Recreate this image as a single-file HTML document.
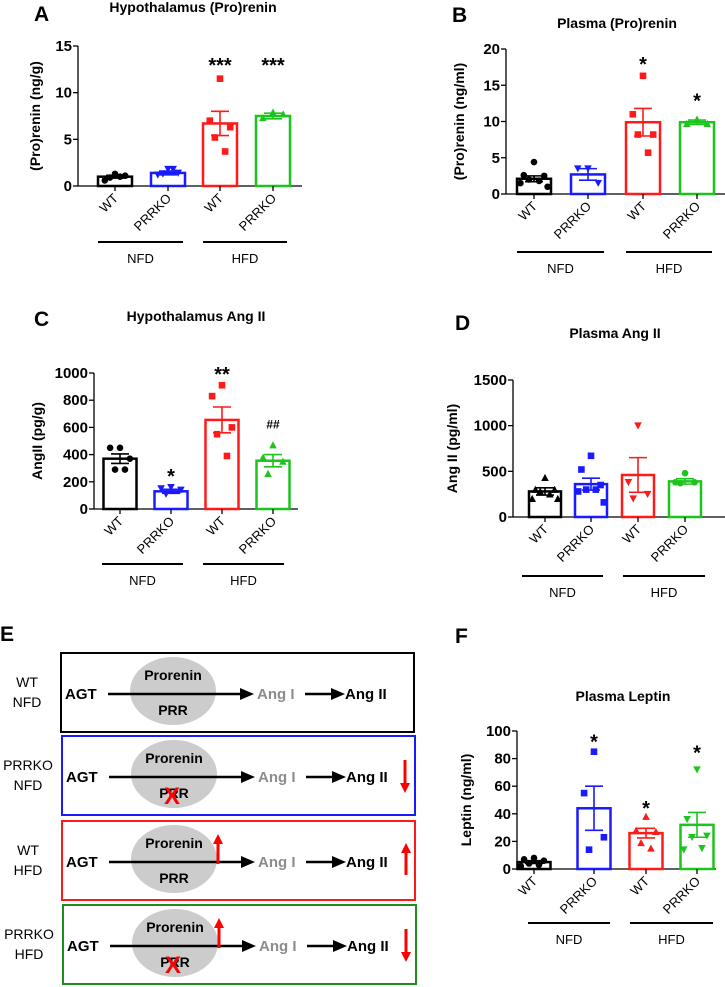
<!DOCTYPE html>
<html><head><meta charset="utf-8"><style>
body{margin:0;background:#fff}
svg{display:block;font-family:"Liberation Sans",Arial,sans-serif}
</style></head><body>
<svg id="fig" width="725" height="987" viewBox="0 0 725 987"></svg>
<script>
// ---- data ----
const groups = ["WT","PRRKO","WT","PRRKO"];
const diets = ["NFD","HFD"];
const aPts = [[1.3,0.6,1.1,0.9,1.0],[1.8,1.2,1.4,1.3,1.8],[11.5,7.0,6.3,5.2,3.7],[7.9,7.3,7.7]];
const aMean = [1.0,1.4,6.7,7.5];
const aSem = [0.15,0.2,1.3,0.3];
const aTicks = [0,5,10,15];
const aSig = ["","","***","***"];
const bPts = [[4.4,2.6,2.5,2.0,1.8,1.5,1.0],[3.5,3.5,1.5],[16.3,11.0,8.2,8.2,5.7],[10.3,9.7,9.7]];
const bMean = [2.1,2.7,9.9,9.9];
const bSem = [0.4,0.8,1.9,0.3];
const bTicks = [0,5,10,15,20];
const bSig = ["","","*","*"];
const cPts = [[450,450,370,290,290],[160,150,140,110],[910,830,600,550,390],[470,380,350,260]];
const cMean = [370,130,655,355];
const cSem = [35,15,95,45];
const cTicks = [0,200,400,600,800,1000];
const cSig = ["","*","**","##"];
const dPts = [[430,300,300,280,250,200,200],[670,520,350,300,300,280,160],[1000,380,250,200],[480,380,380,370]];
const dMean = [280,360,460,390];
const dSem = [40,65,190,30];
const dTicks = [0,500,1000,1500];
const dSig = ["","","",""];
const fPts = [[8,7,6,4,3,2],[85,55,23,14],[38,28,27,19,15],[72,36,24,23,15,14]];
const fMean = [5,44,26,32];
const fSem = [1,16,3.5,9];
const fTicks = [0,20,40,60,80,100];
const fSig = ["","*","*","*"];

const NS="http://www.w3.org/2000/svg";
const svg=document.getElementById('fig');
const colors=["#000","#1a1aff","#ff1a1a","#1ec41e"];
const jit=[0,-0.6,0.6,-0.3,0.3,-0.8,0.8];
function mk(tag,attrs,parent,name){const e=document.createElementNS(NS,tag);for(const k in attrs)e.setAttribute(k,attrs[k]);


(parent||svg).appendChild(e);return e;}
function txt(x,y,s,attrs,parent,name){const e=mk('text',Object.assign({x:x,y:y},attrs||{}),parent,name);e.textContent=s;return e;}
function marker(g,shape,x,y,c){
  const s=3.3;
  if(shape==='circle')mk('circle',{cx:x,cy:y,r:s,fill:c},g,'data-point');
  else if(shape==='square')mk('rect',{x:x-s,y:y-s,width:2*s,height:2*s,fill:c},g,'data-point');
  else if(shape==='up')mk('polygon',{points:`${x},${y-s-0.5} ${x-s-0.5},${y+s} ${x+s+0.5},${y+s}`,fill:c},g,'data-point');
  else mk('polygon',{points:`${x},${y+s+0.5} ${x-s-0.5},${y-s} ${x+s+0.5},${y-s}`,fill:c},g,'data-point');
}
function panel(P){
  const g=mk('g',{},svg,P.name);
  const y=v=>P.y0-(v/P.max)*(P.y0-P.yTop);
  txt(P.lx,P.ly,P.letter,{'font-size':21,'font-weight':'bold'},g,'panel-letter');
  txt(P.tx,P.ty,P.title,{'font-size':14,'font-weight':'bold','text-anchor':'middle'},g,'chart-title');
  txt(0,0,P.ytitle,{'font-size':14,'font-weight':'bold','text-anchor':'middle',transform:`translate(${P.ax-P.ytOff},${(P.y0+P.yTop)/2}) rotate(-90)`},g,'y-axis-title');
  mk('line',{x1:P.ax,y1:P.yTop,x2:P.ax,y2:P.y0,stroke:'#000','stroke-width':1.3},g,'y-axis');
  mk('line',{x1:P.ax,y1:P.y0,x2:P.xEnd,y2:P.y0,stroke:'#000','stroke-width':1.3},g,'x-axis');
  P.ticks.forEach(t=>{mk('line',{x1:P.ax-5,y1:y(t),x2:P.ax,y2:y(t),stroke:'#000','stroke-width':1.3},g,'y-tick');
    txt(P.ax-6,y(t)+5,String(t),{'font-size':15,'font-weight':'bold','text-anchor':'end'},g,'y-tick-label');});
  P.cx.forEach((cx,i)=>{
    const c=colors[i];const hw=P.bw/2;
    mk('rect',{x:cx-hw,y:y(P.mean[i]),width:P.bw,height:P.y0-y(P.mean[i]),fill:'none',stroke:c,'stroke-width':2.5},g,'bar-'+i);
    mk('line',{x1:cx,y1:y(P.mean[i]-P.sem[i]),x2:cx,y2:y(P.mean[i]+P.sem[i]),stroke:c,'stroke-width':1.6},g,'error-bar');
    [P.mean[i]-P.sem[i],P.mean[i]+P.sem[i]].forEach(v=>mk('line',{x1:cx-9,y1:y(v),x2:cx+9,y2:y(v),stroke:c,'stroke-width':1.6},g,'error-cap'));
    const pts=P.pts[i];
    pts.forEach((v,j)=>{marker(g,P.shapes[i],cx+jit[j%jit.length]*hw,y(v),c);});
    mk('line',{x1:cx,y1:P.y0,x2:cx,y2:P.y0+5,stroke:'#000','stroke-width':1.3},g,'x-tick');
    txt(0,0,groups[i],{'font-size':13,'text-anchor':'end',transform:`translate(${cx+4},${P.y0+13}) rotate(-45)`},g,'x-tick-label');
    if(P.sig[i]){const ss=P.sig[i];
      txt(cx,y(P.sigV[i])+(ss[0]==='#'?5:12),ss,{'font-size':ss[0]==='#'?12:20,'font-weight':'bold','text-anchor':'middle'},g,'significance-mark');}
  });
  P.gl.forEach((r,k)=>{mk('line',{x1:r[0],y1:P.gy,x2:r[1],y2:P.gy,stroke:'#000','stroke-width':2},g,'group-line');
    txt((r[0]+r[1])/2,P.gy+21,diets[k],{'font-size':13,'text-anchor':'middle'},g,'group-label');});
}
panel({name:'panel-a',letter:'A',lx:34,ly:21,title:'Hypothalamus (Pro)renin',tx:193,ty:12,ytitle:'(Pro)renin (ng/g)',ytOff:38,
 ax:78,y0:186,yTop:46,max:15,xEnd:302,bw:34,cx:[115,168,220,273],ticks:aTicks,pts:aPts,mean:aMean,sem:aSem,sig:aSig,sigV:[0,0,13.5,13.5],
 shapes:['circle','down','square','up'],gl:[[98,183],[203,287]],gy:242});
panel({name:'panel-b',letter:'B',lx:452,ly:22,title:'Plasma (Pro)renin',tx:617,ty:28,ytitle:'(Pro)renin (ng/ml)',ytOff:42,
 ax:506,y0:194,yTop:49,max:20,xEnd:725,bw:34,cx:[534,588,643,697],ticks:bTicks,pts:bPts,mean:bMean,sem:bSem,sig:bSig,sigV:[0,0,18.6,13.6],
 shapes:['circle','down','square','up'],gl:[[517,604],[626,712]],gy:252});
panel({name:'panel-c',letter:'C',lx:34,ly:326,title:'Hypothalamus Ang II',tx:196,ty:321,ytitle:'AngII (pg/g)',ytOff:52,
 ax:94,y0:509,yTop:373,max:1000,xEnd:298,bw:33,cx:[120,171,222,273],ticks:cTicks,pts:cPts,mean:cMean,sem:cSem,sig:cSig,sigV:[0,280,1030,630],
 shapes:['circle','down','square','up'],gl:[[102,183],[203,284]],gy:564});
panel({name:'panel-d',letter:'D',lx:455,ly:330,title:'Plasma Ang II',tx:615,ty:338,ytitle:'Ang II (pg/ml)',ytOff:56,
 ax:513,y0:517,yTop:380,max:1500,xEnd:725,bw:32,cx:[545,591,638,685],ticks:dTicks,pts:dPts,mean:dMean,sem:dSem,sig:dSig,sigV:[0,0,0,0],
 shapes:['up','square','down','circle'],gl:[[522,603],[623,705]],gy:576});
panel({name:'panel-f',letter:'F',lx:455,ly:643,title:'Plasma Leptin',tx:623,ty:701,ytitle:'Leptin (ng/ml)',ytOff:46,
 ax:517,y0:869,yTop:731,max:100,xEnd:716,bw:33,cx:[534,594,646,697],ticks:fTicks,pts:fPts,mean:fMean,sem:fSem,sig:fSig,sigV:[0,96,48,88],
 shapes:['circle','square','up','down'],gl:[[528,610],[630,713]],gy:923});

// ---- panel E schematic ----
const E=mk('g',{},svg,'panel-e');
txt(0,641,'E',{'font-size':21,'font-weight':'bold'},E,'panel-letter');
const boxes=[
 {y:653,dx:0,c:'#000',l:['WT','NFD'],ko:false,pu:false,ang:''},
 {y:736,dx:1,c:'#1a1aff',l:['PRRKO','NFD'],ko:true,pu:false,ang:'down'},
 {y:821,dx:1,c:'#ff1a1a',l:['WT','HFD'],ko:false,pu:true,ang:'up'},
 {y:905,dx:2,c:'#1e8c1e',l:['PRRKO','HFD'],ko:true,pu:true,ang:'down'}];
function redArrow(g,x,y1,y2){const up=y2<y1;mk('line',{x1:x,y1:y1,x2:x,y2:up?y2+8:y2-8,stroke:'#ff0000','stroke-width':3},g,'change-arrow');
 mk('polygon',{points:up?`${x},${y2} ${x-5},${y2+10} ${x+5},${y2+10}`:`${x},${y2} ${x-5},${y2-10} ${x+5},${y2-10}`,fill:'#ff0000'},g,'change-arrow-head');}
boxes.forEach((b,i)=>{
 const g=mk('g',{},E,'pathway-box-'+i);const x0=61+b.dx,cy=b.y+40;
 mk('rect',{x:x0,y:b.y,width:353,height:79,fill:'none',stroke:b.c,'stroke-width':2},g,'box-border');
 txt(27+b.dx,cy-6,b.l[0],{'font-size':14,'text-anchor':'middle'},g,'condition-label');
 txt(27+b.dx,cy+14,b.l[1],{'font-size':14,'text-anchor':'middle'},g,'condition-label');
 const ex=x0+112;
 mk('ellipse',{cx:ex,cy:cy-2,rx:43,ry:34,fill:'#cccccc'},g,'enzyme-ellipse');
 txt(ex,cy-13,'Prorenin',{'font-size':14,'font-weight':'bold','text-anchor':'middle'},g,'prorenin-label');
 txt(ex,cy+22,'PRR',{'font-size':14,'font-weight':'bold','text-anchor':'middle'},g,'prr-label');
 txt(x0+4,cy+6,'AGT',{'font-size':15,'font-weight':'bold'},g,'agt-label');
 mk('line',{x1:x0+47,y1:cy+1,x2:x0+180,y2:cy+1,stroke:'#000','stroke-width':2.5},g,'arrow-line');
 mk('polygon',{points:`${x0+193},${cy+1} ${x0+179},${cy-5} ${x0+179},${cy+7}`,fill:'#000'},g,'arrow-head');
 txt(x0+196,cy+6,'Ang I',{'font-size':15,'font-weight':'bold',fill:'#8c8c8c'},g,'ang-i-label');
 mk('line',{x1:x0+244,y1:cy+1,x2:x0+272,y2:cy+1,stroke:'#000','stroke-width':2.5},g,'arrow-line');
 mk('polygon',{points:`${x0+284},${cy+1} ${x0+270},${cy-5} ${x0+270},${cy+7}`,fill:'#000'},g,'arrow-head');
 txt(x0+284,cy+6,'Ang II',{'font-size':15,'font-weight':'bold'},g,'ang-ii-label');
 if(b.ko)txt(ex-2,cy+28,'X',{'font-size':24,'font-weight':'bold',fill:'#ff0000','text-anchor':'middle'},g,'knockout-x');
 if(b.pu)redArrow(g,ex+44,cy+3,cy-27);
 if(b.ang==='up')redArrow(g,x0+344,cy+14,cy-18);
 if(b.ang==='down')redArrow(g,x0+343,cy-16,cy+17);
});
</script>
</body></html>
